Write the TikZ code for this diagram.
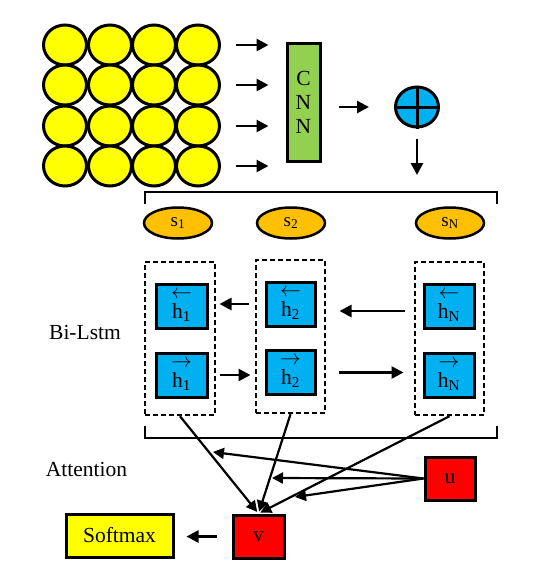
\documentclass[tikz,border=0pt]{standalone}
\usepackage{fontspec}
\setmainfont{Liberation Serif}
\usetikzlibrary{shapes.geometric,arrows.meta,calc}
\definecolor{cyel}{HTML}{FFFF00}
\definecolor{cgreen}{HTML}{92D050}
\definecolor{cblue}{HTML}{00B0F0}
\definecolor{corange}{HTML}{FFC000}
\definecolor{cred}{HTML}{FF0000}
\begin{document}
\begin{tikzpicture}[x=1pt,y=-1pt,font=\fontsize{21.5}{24}\selectfont,
  circ/.style={ellipse,draw,line width=3pt,fill=cyel,minimum width=43pt,minimum height=40pt,inner sep=0pt},
  arr/.style={line width=2.6pt,-{Triangle[length=12pt,width=12pt]}},
  thinarr/.style={line width=2.2pt,-{Triangle[length=11pt,width=11pt]}},
  cnnbox/.style={rectangle,draw,line width=3pt,fill=cgreen,minimum width=33pt,minimum height=118pt,inner sep=0pt,align=center},
  opnode/.style={ellipse,draw,line width=3pt,fill=cblue,minimum width=43pt,minimum height=40pt,inner sep=0pt},
  snode/.style={ellipse,draw,line width=2.5pt,fill=corange,minimum width=68pt,minimum height=31pt,inner sep=0pt,font=\fontsize{19}{20}\selectfont},
  dbox/.style={rectangle,draw,line width=2.4pt,dash pattern=on 5pt off 3pt,minimum width=69pt,minimum height=153pt,inner sep=0pt},
  hbox/.style={rectangle,draw,line width=3pt,fill=cblue,minimum width=50pt,minimum height=44pt,inner sep=0pt,align=center},
  rbox/.style={rectangle,draw,line width=3pt,fill=cred,minimum width=51pt,minimum height=43pt,inner sep=0pt},
  ybox/.style={rectangle,draw,line width=3pt,fill=cyel,minimum width=107pt,minimum height=43pt,inner sep=0pt},
  brk/.style={line width=2.8pt},
  lab/.style={inner sep=0pt}]
\useasboundingbox (0,0) rectangle (544,579);
% grid of circles
\foreach \i/\yy in {1/45,2/85,3/126,4/166}{
  \foreach \j/\xx in {1/65,2/110,3/154,4/198}{
    \node[circ] (c\i\j) at (\xx,\yy) {};
  }
}
% CNN
\node[cnnbox] (cnn) at (303.5,102) {C\\N\\N};
\foreach \i in {1,2,3,4}{
  \draw[arr,shorten <=15pt,shorten >=17pt] (c\i4.east) -- (c\i4.east -| cnn.west);
}
% oplus
\node[opnode] (op) at (417,107) {};
\draw[line width=3pt] (op.north) -- (op.south) (op.west) -- (op.east);
\draw[arr,shorten <=17pt,shorten >=25pt] (cnn.east |- op.west) -- (op.west);
% top bracket
\coordinate (tbl) at (145,204);
\coordinate (tbr) at (497,204);
\coordinate (tbt) at (417,192);
\draw[brk] (tbl) -- ++(0,-12) -| (tbr);
\draw[arr,shorten <=10pt,shorten >=17pt] (op.south) -- (tbt);
% s nodes
\node[snode] (s1) at (178,223) {s\textsubscript{1}};
\node[snode] (s2) at (291,223) {s\textsubscript{2}};
\node[snode] (sN) at (450,223) {s\textsubscript{N}};
% dashed boxes
\node[dbox,minimum width=70pt] (b1) at (180,338.5) {};
\node[dbox] (b2) at (290.5,336.5) {};
\node[dbox] (b3) at (449.5,338.5) {};
% h boxes
\node[hbox,minimum width=51pt] (h1t) at (181.5,306) {\shortstack{$\leftarrow$\\[2pt]h\textsubscript{1}}};
\node[hbox,minimum width=51pt] (h1b) at (181.5,375) {\shortstack{$\rightarrow$\\[2pt]h\textsubscript{1}}};
\node[hbox,minimum width=49pt] (h2t) at (290.5,304) {\shortstack{$\leftarrow$\\[2pt]h\textsubscript{2}}};
\node[hbox,minimum width=49pt] (h2b) at (290.5,372.5) {\shortstack{$\rightarrow$\\[2pt]h\textsubscript{2}}};
\node[hbox] (hNt) at (449,306) {\shortstack{$\leftarrow$\\[2pt]h\textsubscript{N}}};
\node[hbox] (hNb) at (449,375) {\shortstack{$\rightarrow$\\[2pt]h\textsubscript{N}}};
% lstm arrows
\draw[arr,shorten <=16pt,shorten >=11pt] (h2t.west) -- (h2t.west -| h1t.east);
\draw[arr,shorten <=18pt,shorten >=23pt] ($(hNt.west)+(0,5)$) -- ($(hNt.west -| h2t.east)+(0,5)$);
\draw[arr,shorten <=11pt,shorten >=14pt] (h1b.east) -- (h1b.east -| h2b.west);
\draw[arr,shorten <=22pt,shorten >=19pt] (h2b.east) -- (h2b.east -| hNb.west);
% bottom bracket
\coordinate (bbl) at (145,426);
\coordinate (bbr) at (497,426);
\draw[brk] (bbl) -- ++(0,12) -| (bbr);
% labels
\node[lab] (bilstm) at (85,332) {Bi-Lstm};
\node[lab] (att) at (86.5,469) {Attention};
% attention nodes
\node[rbox] (v) at (258.5,536.5) {v};
\node[rbox,minimum width=50pt] (u) at (450,478.5) {u};
\node[ybox] (sm) at (119.5,535.5) {Softmax};
\draw[thinarr,shorten >=2pt] (b1.south) -- (v.north);
\draw[thinarr,shorten >=2pt] (b2.south) -- (v.north);
\draw[thinarr,shorten >=2pt] (b3.south) -- (v.north);
\coordinate (p1) at (213,452);
\coordinate (p2) at (272,478);
\coordinate (p3) at (295,497);
\draw[thinarr] (u.west) -- (p1);
\draw[thinarr] (u.west) -- (p2);
\draw[thinarr] (u.west) -- (p3);
\draw[arr,shorten <=15pt,shorten >=12pt] (v.west) -- (v.west -| sm.east);
\end{tikzpicture}
\end{document}
